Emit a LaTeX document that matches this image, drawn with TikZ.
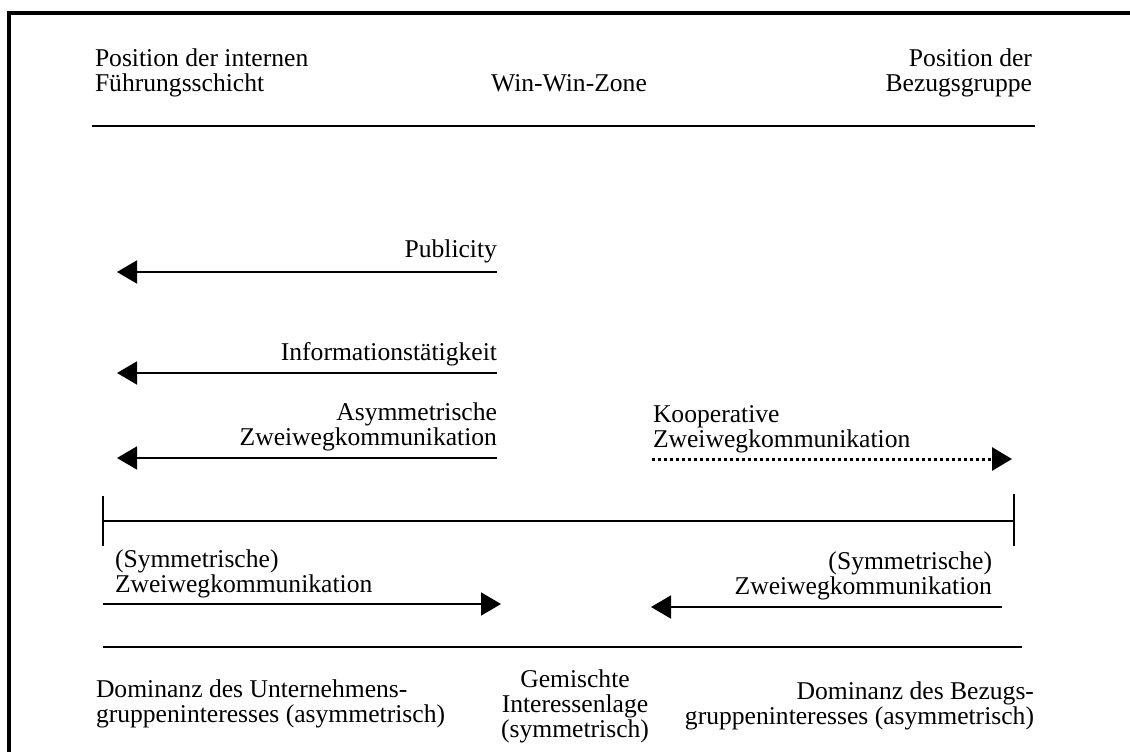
\documentclass[tikz,border=0pt]{standalone}
\usepackage{fontspec}
\setmainfont{Liberation Serif}
\usetikzlibrary{arrows.meta}

\tikzset{
  lbl/.style={inner sep=0pt, outer sep=0pt, font=\fontsize{25.6}{25}\selectfont},
  rule/.style={line width=1.8pt},
  flow/.style={line width=1.7pt, -{Triangle[length=20pt,width=23pt]}},
  coop/.style={line width=3pt, dash pattern=on 3pt off 3pt, -{Triangle[length=20pt,width=23pt]}},
  axis/.style={line width=2.7pt},
  tick/.style={line width=2.6pt},
  frame/.style={line width=4pt, line join=miter},
}

\begin{document}
\begin{tikzpicture}[x=1pt, y=-1pt]
  \useasboundingbox (0,0) rectangle (1130,752);

  % frame along the top and left edge
  \coordinate (fBL) at (9,752);
  \coordinate (fTL) at (9,13.5);
  \coordinate (fTR) at (1130,13.5);
  \draw[frame] (fBL) -- (fTL) -- (fTR);

  % header (anchor base = baseline of the last line)
  \node[lbl, align=left, anchor=base west] (intern) at (95,92) {Position der internen\\Führungsschicht};
  \node[lbl, anchor=base] (winwin) at (569,92) {Win-Win-Zone};
  \node[lbl, align=right, anchor=base east] (bezug) at (1032,92) {Position der\\Bezugsgruppe};
  \coordinate (topL) at (92,126);
  \coordinate (topR) at (1035,126);
  \draw[rule] (topL) -- (topR);

  % one-way models pointing to the management side
  \node[lbl, anchor=base east] (pub) at (497,257) {Publicity};
  \coordinate (pubS) at (497,272);
  \coordinate (pubE) at (117,272);
  \draw[flow] (pubS) -- (pubE);

  \node[lbl, anchor=base east] (info) at (497,360) {Informationstätigkeit};
  \coordinate (infoS) at (497,373);
  \coordinate (infoE) at (117,373);
  \draw[flow] (infoS) -- (infoE);

  \node[lbl, align=right, anchor=base east] (asym) at (497,445) {Asymmetrische\\Zweiwegkommunikation};
  \coordinate (asymS) at (497,458);
  \coordinate (asymE) at (117,458);
  \draw[flow] (asymS) -- (asymE);

  % cooperative model
  \node[lbl, align=left, anchor=base west] (koop) at (653,447) {Kooperative\\Zweiwegkommunikation};
  \coordinate (koopS) at (652,459);
  \coordinate (koopE) at (1012,459);
  \draw[coop] (koopS) -- (koopE);

  % axis with end ticks
  \coordinate (axL) at (103,521);
  \coordinate (axR) at (1014,521);
  \coordinate (tLt) at (103,496);
  \coordinate (tLb) at (103,546);
  \coordinate (tRt) at (1014,494);
  \coordinate (tRb) at (1014,546);
  \draw[axis] (axL) -- (axR);
  \draw[tick] (tLt) -- (tLb);
  \draw[tick] (tRt) -- (tRb);

  % symmetric models towards the middle
  \node[lbl, align=left, anchor=base west] (symL) at (115,592) {(Symmetrische)\\Zweiwegkommunikation};
  \coordinate (symLS) at (103,604);
  \coordinate (symLE) at (501,604);
  \draw[flow] (symLS) -- (symLE);

  \node[lbl, align=right, anchor=base east] (symR) at (992,594) {(Symmetrische)\\Zweiwegkommunikation};
  \coordinate (symRS) at (1002,607);
  \coordinate (symRE) at (651,607);
  \draw[flow] (symRS) -- (symRE);

  % footer
  \coordinate (botL) at (103,647);
  \coordinate (botR) at (1022,647);
  \draw[rule] (botL) -- (botR);

  \node[lbl, align=left, anchor=base west] (domU) at (96,722) {Dominanz des Unternehmens-\\gruppeninteresses (asymmetrisch)};
  \node[lbl, align=center, anchor=base] (mix) at (575,737) {Gemischte\\Interessenlage\\(symmetrisch)};
  \node[lbl, align=right, anchor=base east] (domB) at (1034,724) {Dominanz des Bezugs-\\gruppeninteresses (asymmetrisch)};
\end{tikzpicture}
\end{document}
